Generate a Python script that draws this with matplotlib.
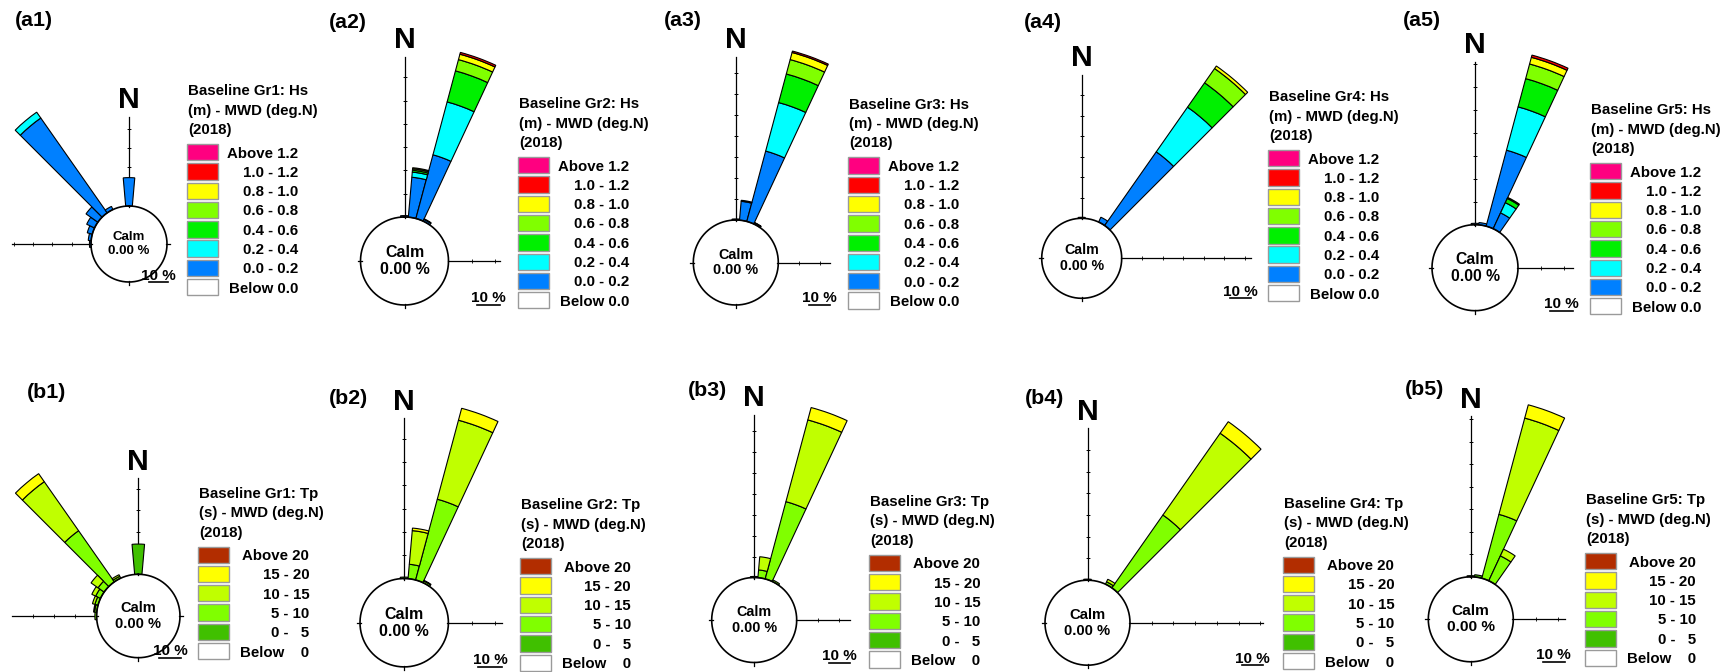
import numpy as np
import matplotlib.pyplot as plt
from matplotlib.patches import Rectangle
from matplotlib.lines import Line2D

plt.rcParams['font.family'] = ['Liberation Sans', 'DejaVu Sans']
plt.rcParams['font.weight'] = 'bold'

W, H = 1735, 672

# ---- class definitions ----
hs_classes = ['0.0 - 0.2', '0.2 - 0.4', '0.4 - 0.6', '0.6 - 0.8', '0.8 - 1.0', '1.0 - 1.2', 'Above 1.2']
hs_colors = ['#0080ff', '#00ffff', '#00f000', '#80ff00', '#ffff00', '#ff0000', '#ff0080']
tp_classes = ['0 -   5', '5 - 10', '10 - 15', '15 - 20', 'Above 20']
tp_colors = ['#40c000', '#80ff00', '#c0ff00', '#ffff00', '#b22d00']

# ---- data: frequency (%) per direction sector, columns = classes low -> high ----
a1_dirs = [0, 270, 280, 290, 300, 310, 320, 330]
a1_hs = [[14.7, 0, 0, 0, 0, 0, 0],
         [0.8, 0, 0, 0, 0, 0, 0],
         [1.5, 0, 0, 0, 0, 0, 0],
         [2.7, 0, 0, 0, 0, 0, 0],
         [4.5, 0, 0, 0, 0, 0, 0],
         [7.5, 0, 0, 0, 0, 0, 0],
         [60.0, 3.7, 0, 0, 0, 0, 0],
         [1.8, 0, 0, 0, 0, 0, 0]]

a2_dirs = [0, 10, 20, 30]
a2_hs = [[0.6, 0, 0, 0, 0, 0, 0],
         [17.2, 2.2, 0.8, 0.6, 0.5, 0, 0],
         [28.3, 23.5, 13.8, 5.0, 2.4, 0.8, 0],
         [0.8, 0.3, 0, 0, 0, 0, 0]]

a3_dirs = [0, 10, 20, 30]
a3_hs = [[0.5, 0, 0, 0, 0, 0, 0],
         [9.0, 0.5, 0, 0, 0, 0, 0],
         [34.7, 23.9, 14.1, 7.1, 3.5, 0.7, 0],
         [0.6, 0.2, 0, 0, 0, 0, 0]]

a4_dirs = [0, 30, 40]
a4_hs = [[0.5, 0, 0, 0, 0, 0, 0],
         [2.6, 0, 0, 0, 0, 0, 0],
         [43.9, 26.6, 14.5, 8.5, 1.5, 0, 0]]

a5_dirs = [0, 10, 20, 30]
a5_hs = [[0.6, 0, 0, 0, 0, 0, 0],
         [1.0, 0, 0, 0, 0, 0, 0],
         [34.2, 19.5, 12.7, 6.6, 3.0, 1.0, 0],
         [7.6, 4.9, 2.0, 0.5, 0, 0, 0]]

b1_dirs = [0, 270, 280, 290, 300, 310, 320, 330]
b1_tp = [[14.2, 0, 0, 0, 0],
         [0, 0.8, 0, 0, 0],
         [0, 1.0, 0.5, 0, 0],
         [0, 1.5, 1.2, 0, 0],
         [0, 2.5, 2.0, 0, 0],
         [0, 3.5, 4.0, 0, 0],
         [0, 29.3, 28.1, 4.6, 0],
         [0, 1.0, 0.8, 0, 0]]

b2_dirs = [0, 10, 20, 30]
b2_tp = [[0.6, 0, 0, 0, 0],
         [0, 6.2, 14.5, 1.1, 0],
         [0, 35.9, 35.1, 5.3, 0],
         [0, 0.8, 0.3, 0, 0]]

b3_dirs = [0, 10, 20, 30]
b3_tp = [[0.5, 0, 0, 0, 0],
         [0, 3.7, 6.3, 0, 0],
         [0, 38.1, 40.3, 6.1, 0],
         [0, 0.8, 0, 0, 0]]

b4_dirs = [0, 30, 40]
b4_tp = [[0.5, 0, 0, 0, 0],
         [0, 1.2, 1.3, 0, 0],
         [0, 41.0, 46.0, 6.5, 0]]

b5_dirs = [0, 10, 20, 30]
b5_tp = [[0.5, 0, 0, 0, 0],
         [1.0, 0, 0, 0, 0],
         [0, 29.4, 44.3, 6.1, 0],
         [0, 12.2, 3.3, 0, 0]]

# ---- layout (pixels): tag pos, circle centre, calm radius, px per %, N-axis top, E end, W end, legend ----
layout = [
    ('a1', (15, 21), (129, 244), 38, 1.93, 116.7, 168, 12, (187, 90)),
    ('a2', (329, 22), (404.5, 261), 44, 2.33, 57, 500, None, (518.3, 103)),
    ('a3', (664, 20), (735.8, 262.5), 42.5, 2.10, 56.7, 830, None, (848.3, 103.3)),
    ('a4', (1024, 22), (1081.7, 258.3), 40, 2.05, 75, 1250.7, None, (1268.3, 96)),
    ('a5', (1403, 21), (1475, 267.7), 43, 2.30, 61.7, 1572.7, None, (1590, 109)),
    ('b1', (27, 393), (138.3, 616), 41.7, 2.13, 478.3, 180.7, 11.7, (198.3, 492.5)),
    ('b2', (329, 399), (404.2, 622.7), 44.2, 2.33, 418.3, 501.7, None, (520, 504)),
    ('b3', (688, 391), (754.2, 620), 42.5, 2.10, 415, 850, None, (869.3, 500.8)),
    ('b4', (1025, 399), (1087.5, 622.7), 42.5, 2.17, 428.3, 1263.3, None, (1283.3, 502.5)),
    ('b5', (1405, 389), (1470.8, 619.3), 42.5, 2.25, 416, 1565, None, (1585, 499)),
]

data = {
    'a1': (a1_dirs, a1_hs), 'a2': (a2_dirs, a2_hs), 'a3': (a3_dirs, a3_hs),
    'a4': (a4_dirs, a4_hs), 'a5': (a5_dirs, a5_hs),
    'b1': (b1_dirs, b1_tp), 'b2': (b2_dirs, b2_tp), 'b3': (b3_dirs, b3_tp),
    'b4': (b4_dirs, b4_tp), 'b5': (b5_dirs, b5_tp),
}

fig = plt.figure(figsize=(W / 100, H / 100), dpi=100)
fig.patch.set_facecolor('white')
renderer = fig.canvas.get_renderer()


def fx(x):
    return x / W


def fy(y):
    return 1 - y / H


def fit_size(txt, target_px, ref=10.0):
    # font size that makes txt target_px wide (bold)
    t = fig.text(0, 0, txt, fontsize=ref, fontweight='bold')
    w = t.get_window_extent(renderer).width
    t.remove()
    return ref * target_px / w


LEG_FS = fit_size('Baseline Gr1: Hs', 120.5)
TAG_FS = fit_size('(a1)', 38)
N_FS = fit_size('N', 21.5)
BAR_FS = fit_size('10 %', 35)
CALM_FS = fit_size('Calm', 39) / 2.33   # per unit of px-per-%

for key, tag_xy, (cx, cy), r0px, s, n_top, e_end, w_end, (lx, ly) in layout:
    dirs, freq = data[key]
    is_hs = key.startswith('a')
    colors = hs_colors if is_hs else tp_colors
    freq = np.asarray(freq, dtype=float)
    r0 = r0px / s
    rmax = 130
    R = rmax * s
    ax = fig.add_axes([fx(cx - R), fy(cy + R), 2 * R / W, 2 * R / H], projection='polar')
    ax.set_theta_zero_location('N')
    ax.set_theta_direction(-1)
    ax.set_ylim(0, rmax)
    ax.set_axis_off()

    theta = np.deg2rad(dirs)
    bottom = np.full(len(dirs), r0)
    for k in range(freq.shape[1]):
        h = freq[:, k]
        m = h > 0
        if m.any():
            ax.bar(theta[m], h[m], width=np.deg2rad(10), bottom=bottom[m],
                   color=colors[k], edgecolor='black', linewidth=0.8, zorder=3)
        bottom = bottom + h

    # calm circle
    t = np.linspace(0, 2 * np.pi, 400)
    ax.plot(t, np.full_like(t, r0), color='black', lw=1.2, zorder=4)
    ax.text(0, 0, 'Calm\n0.00 %', ha='center', va='center', fontsize=CALM_FS * s,
            fontweight='bold', linespacing=1.15)

    # axes with tick marks
    stub_in, stub_out = 1.0 / s, 3.0 / s
    axis_len = {0: (cy - n_top) / s,
                90: (e_end - cx) / s if e_end - cx > r0px + 4 else None,
                180: None,
                270: (cx - w_end) / s if w_end is not None else None}
    for ang, rend in axis_len.items():
        th = np.deg2rad(ang)
        if rend is None:
            ax.plot([th, th], [r0 - stub_in, r0 + stub_out], color='black', lw=0.9, zorder=2)
            continue
        ax.plot([th, th], [r0 - stub_in, rend], color='black', lw=0.9, zorder=2)
        rt = r0 + 10 * np.arange(1, 15)
        rt = rt[rt < rend - 0.5]
        ax.plot(np.full_like(rt, th), rt, ls='none', color='black',
                marker='_' if ang in (0, 180) else '|', ms=3, mew=0.6, zorder=2)

    # N label
    fig.text(fx(cx), fy(n_top - 8.5), 'N', fontsize=N_FS, fontweight='bold',
             ha='center', va='baseline')

    # panel tag
    fig.text(fx(tag_xy[0]), fy(tag_xy[1]), '(' + key + ')', fontsize=TAG_FS,
             fontweight='bold', ha='left', va='center')

    # scale bar
    ybar = cy + r0px
    fig.add_artist(Line2D([fx(e_end - 10 * s), fx(e_end)], [fy(ybar), fy(ybar)],
                          transform=fig.transFigure, color='black', lw=1.2))
    fig.text(fx(e_end - 5 * s), fy(ybar - 2.5), '10 %', fontsize=BAR_FS, fontweight='bold',
             ha='center', va='baseline')

    # legend
    num = key[1]
    if is_hs:
        title = ['Baseline Gr%s: Hs' % num, '(m) - MWD (deg.N)', '(2018)']
        labs = hs_classes[::-1] + ['Below 0.0']
    else:
        title = ['Baseline Gr%s: Tp' % num, '(s) - MWD (deg.N)', '(2018)']
        labs = tp_classes[::-1] + ['Below    0']
    cols = colors[::-1] + ['white']
    for i, line in enumerate(title):
        fig.text(fx(lx + 1), fy(ly + i * 19.3 + 5.4), line, fontsize=LEG_FS,
                 fontweight='bold', ha='left', va='baseline')
    top0 = ly + 54
    for k, (lab, col) in enumerate(zip(labs, cols)):
        top = top0 + k * 19.3
        fig.add_artist(Rectangle((fx(lx), fy(top + 16.3)), 31 / W, 16.3 / H,
                                 transform=fig.transFigure, facecolor=col,
                                 edgecolor='#9a9a9a', lw=1))
        fig.text(fx(lx + 111), fy(top + 8.15 + 5.4), lab, fontsize=LEG_FS,
                 fontweight='bold', ha='right', va='baseline')

fig.savefig('out.png', dpi=100, facecolor='white')
